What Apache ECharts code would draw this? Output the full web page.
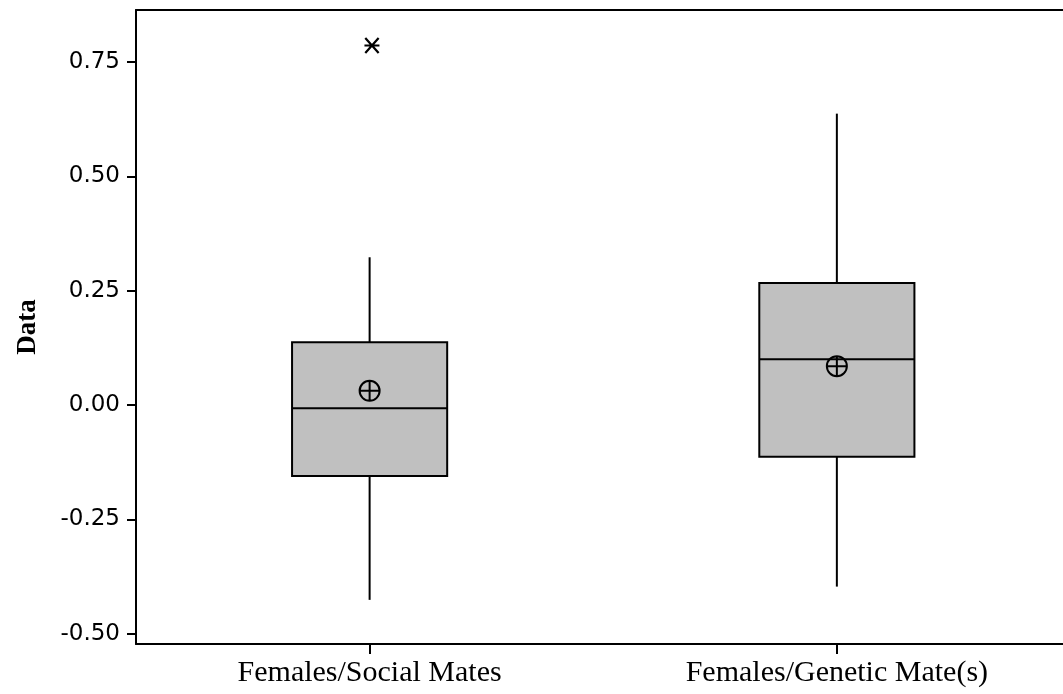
<!DOCTYPE html>
<html>
<head>
<meta charset="utf-8">
<style>
  html, body { margin: 0; padding: 0; background: #fff; }
  #chart { width: 1063px; height: 694px; }
</style>
<script src="https://cdn.jsdelivr.net/npm/echarts@6/dist/echarts.min.js"></script>
</head>
<body>
<div id="chart"></div>
<script>
// Groups compared
const categories = ['Females/Social Mates', 'Females/Genetic Mate(s)'];
// Five-number summaries: [lower whisker, Q1, median, Q3, upper whisker]
const lowWhisker = [-0.426, -0.397];
const q1 = [-0.155, -0.113];
const median = [-0.007, 0.100];
const q3 = [0.137, 0.267];
const highWhisker = [0.323, 0.637];
// Group means (circled cross)
const means = [0.031, 0.085];
// Outliers as [group index, value]
const outliers = [[0.005, 0.786]];
// Y-axis tick values
const yTicks = [-0.50, -0.25, 0.00, 0.25, 0.50, 0.75];
const groupPositions = categories.map((c, i) => i);

const boxData = categories.map((c, i) => [i, lowWhisker[i], q1[i], median[i], q3[i], highWhisker[i]]);
const meanData = categories.map((c, i) => [i, means[i]]);

const circleCross = 'path://M0,-10 A10,10 0 1,1 0,10 A10,10 0 1,1 0,-10 Z M-10,0 L10,0 M0,-10 L0,10';
const asterisk = 'path://M-8,-8 L8,8 M-8,8 L8,-8 M-9,0 L9,0';

function renderBox(params, api) {
  const x = api.value(0);
  const lo = api.coord([x, api.value(1)]);
  const b1 = api.coord([x, api.value(2)]);
  const md = api.coord([x, api.value(3)]);
  const b3 = api.coord([x, api.value(4)]);
  const hi = api.coord([x, api.value(5)]);
  const w = api.size([0.332, 0])[0];
  const cx = md[0];
  const line = { stroke: '#000', lineWidth: 2 };
  return {
    type: 'group',
    children: [
      { type: 'line', shape: { x1: cx, y1: b3[1], x2: cx, y2: hi[1] }, style: line },
      { type: 'line', shape: { x1: cx, y1: b1[1], x2: cx, y2: lo[1] }, style: line },
      { type: 'rect', shape: { x: cx - w / 2, y: b3[1], width: w, height: b1[1] - b3[1] },
        style: { fill: '#c0c0c0', stroke: '#000', lineWidth: 2 } },
      { type: 'line', shape: { x1: cx - w / 2, y1: md[1], x2: cx + w / 2, y2: md[1] }, style: line }
    ]
  };
}

const chart = echarts.init(document.getElementById('chart'));
chart.setOption({
  animation: false,
  backgroundColor: '#fff',
  grid: { left: 136, top: 10, right: 0, height: 634, show: false, containLabel: false, outerBoundsMode: 'none' },
  xAxis: [
    {
      type: 'value',
      min: -0.5,
      max: 1.484,
      axisLine: { onZero: false, lineStyle: { color: '#000', width: 2 } },
      axisTick: { show: true, length: 10, customValues: groupPositions, lineStyle: { color: '#000', width: 2 } },
      axisLabel: {
        color: '#000', fontFamily: 'Liberation Serif', fontSize: 30, margin: 14,
        customValues: groupPositions,
        formatter: v => categories[Math.round(v)]
      },
      splitLine: { show: false }
    },
    {
      // top frame line
      type: 'value',
      position: 'top',
      min: -0.5,
      max: 1.484,
      axisLine: { show: true, onZero: false, lineStyle: { color: '#000', width: 2 } },
      axisTick: { show: false },
      axisLabel: { show: false },
      splitLine: { show: false }
    }
  ],
  yAxis: {
    type: 'value',
    min: -0.5225,
    max: 0.8636,
    name: 'Data',
    nameLocation: 'middle',
    nameGap: 94,
    nameRotate: 90,
    nameTextStyle: {
      color: '#000', fontFamily: 'Liberation Serif', fontWeight: 'bold', fontSize: 27
    },
    axisLine: { show: true, onZero: false, lineStyle: { color: '#000', width: 2 } },
    axisTick: { show: true, length: 9, customValues: yTicks, lineStyle: { color: '#000', width: 2 } },
    axisLabel: {
      color: '#000', fontFamily: 'DejaVu Sans', fontSize: 23, margin: 16,
      customValues: yTicks,
      formatter: v => v.toFixed(2)
    },
    splitLine: { show: false }
  },
  series: [
    {
      type: 'custom',
      renderItem: renderBox,
      encode: { x: 0, y: [1, 2, 3, 4, 5] },
      data: boxData,
      z: 2
    },
    {
      type: 'scatter',
      data: meanData,
      symbol: circleCross,
      symbolSize: 20,
      itemStyle: { color: 'transparent', borderColor: '#000', borderWidth: 2, opacity: 1 },
      z: 3
    },
    {
      type: 'scatter',
      data: outliers,
      symbol: asterisk,
      symbolSize: 15,
      itemStyle: { color: 'transparent', borderColor: '#000', borderWidth: 2.2, opacity: 1 },
      z: 3
    }
  ]
});
</script>
</body>
</html>
